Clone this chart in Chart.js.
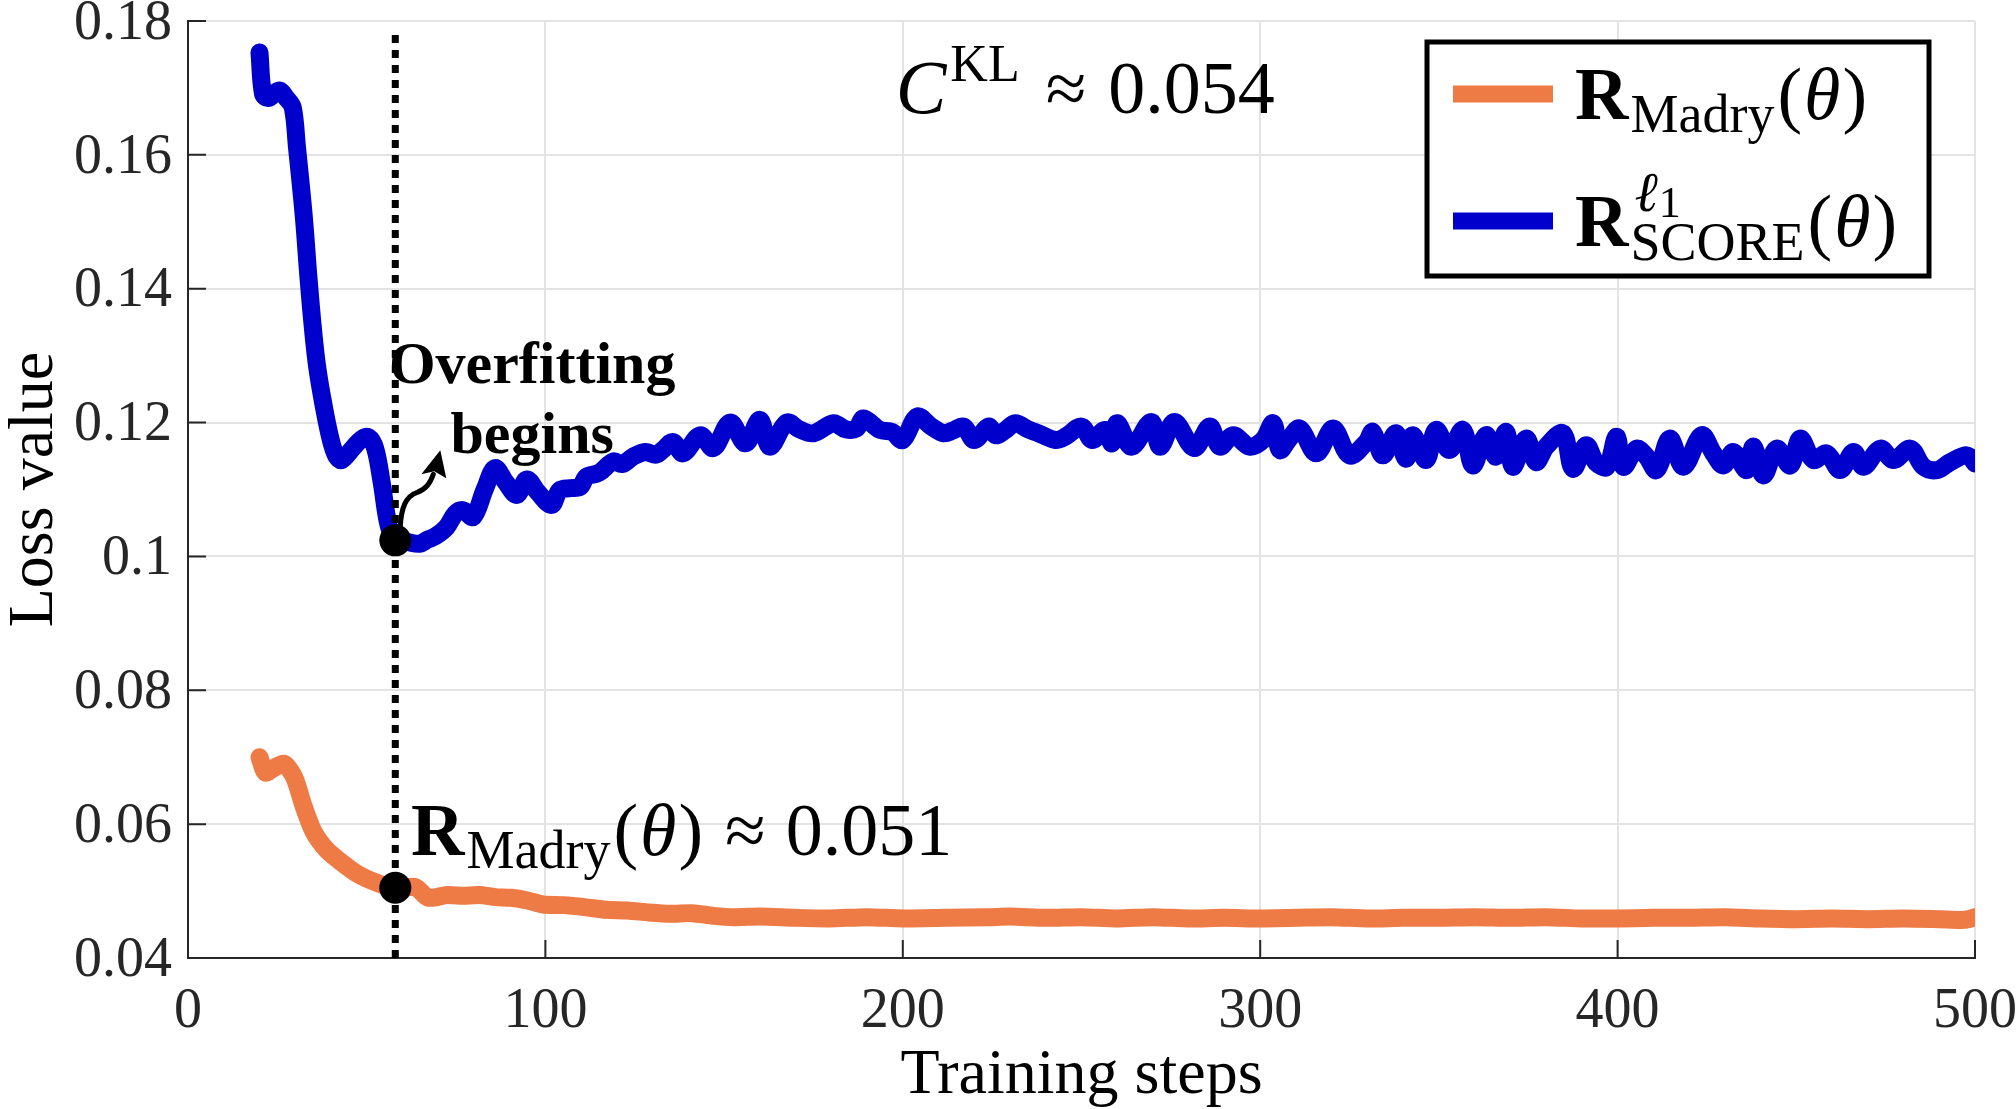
<!DOCTYPE html>
<html>
<head>
<meta charset="utf-8">
<script src="https://cdn.jsdelivr.net/npm/chart.js@4.4.1/dist/chart.umd.min.js"></script>
<style>
  html, body { margin: 0; padding: 0; background: #fff; }
  canvas { display: block; }
</style>
</head>
<body>
<canvas id="lossChart" width="2016" height="1109"></canvas>
<script>
// training steps / loss values
const blueSteps = [
  20, 21, 22.5, 25.5, 27.5, 29.3, 30.5, 32.4, 33.7, 35,
  36.2, 38, 40, 41.5, 43, 46, 48.5, 50.5, 52.4, 54.2,
  56.1, 58, 61, 64.8, 67, 69.2, 72.4, 74.8, 77, 79.8,
  83, 85.9, 89, 92, 94.8, 98, 101.7, 104, 107, 109.7,
  111.5, 115, 119, 121.5, 124.5, 128, 131, 133, 135.7, 138.5,
  143.3, 147, 151.7, 156, 160, 162.8, 167.5, 171, 175, 180.6,
  184, 187, 189, 193.6, 197, 200, 204, 208, 211.5, 214,
  217, 220, 224, 226, 228.5, 231.5, 235, 238, 242.7, 245.5,
  250, 253, 256.6, 258.5, 260, 264, 269.5, 272, 276, 281.5,
  285.9, 288.7, 292.5, 297, 300.8, 303.6, 305.5, 308, 311, 315.7,
  320.4, 325, 329.7, 331.5, 334.3, 338, 340.8, 342.7, 346.4, 349.2,
  352.9, 356.7, 359.5, 363.2, 366, 368.8, 370.7, 374.4, 377.2, 380,
  384.7, 387.5, 391.2, 394, 397, 399.7, 401.6, 405.3, 408, 410.9,
  414.6, 418.4, 423.5, 426.8, 429.6, 432.4, 436.1, 438, 440.8, 444.5,
  448.3, 451.1, 454.8, 458.5, 462.3, 466, 468.8, 473.5, 477.2, 481.9,
  485.6, 489.4, 493.1, 497.8, 500
];
const blueLoss = [
  0.1753, 0.1691, 0.1685, 0.1696, 0.1685, 0.1671, 0.1611, 0.1508, 0.1417, 0.1338,
  0.1281, 0.1224, 0.1173, 0.1150, 0.1144, 0.1161, 0.1175, 0.1178, 0.1161, 0.1110,
  0.1047, 0.1024, 0.1022, 0.1019, 0.1025, 0.1030, 0.1044, 0.1064, 0.1069, 0.1059,
  0.1100, 0.1132, 0.1110, 0.1092, 0.1115, 0.1095, 0.1077, 0.1099, 0.1102, 0.1104,
  0.1119, 0.1125, 0.1142, 0.1138, 0.1149, 0.1156, 0.1152, 0.1160, 0.1171, 0.1154,
  0.1181, 0.1162, 0.1200, 0.1169, 0.1204, 0.1164, 0.1200, 0.1190, 0.1184, 0.1199,
  0.1190, 0.1191, 0.1206, 0.1189, 0.1186, 0.1174, 0.1209, 0.1194, 0.1184, 0.1188,
  0.1194, 0.1174, 0.1194, 0.1181, 0.1188, 0.1199, 0.1190, 0.1184, 0.1174, 0.1179,
  0.1194, 0.1174, 0.1189, 0.1169, 0.1199, 0.1164, 0.1201, 0.1164, 0.1201, 0.1162,
  0.1194, 0.1164, 0.1181, 0.1164, 0.1174, 0.1199, 0.1159, 0.1175, 0.1191, 0.1154,
  0.1191, 0.1151, 0.1171, 0.1186, 0.1151, 0.1184, 0.1146, 0.1181, 0.1144, 0.1189,
  0.1159, 0.1189, 0.1136, 0.1181, 0.1149, 0.1186, 0.1134, 0.1176, 0.1141, 0.1164,
  0.1184, 0.1131, 0.1166, 0.1140, 0.1134, 0.1179, 0.1134, 0.1161, 0.1150, 0.1129,
  0.1176, 0.1134, 0.1181, 0.1154, 0.1136, 0.1156, 0.1129, 0.1164, 0.1121, 0.1161,
  0.1136, 0.1176, 0.1144, 0.1154, 0.1129, 0.1156, 0.1134, 0.1161, 0.1144, 0.1161,
  0.1134, 0.1129, 0.1141, 0.1151, 0.1139
];

const orangeSteps = [
  20, 21.7, 24.4, 27, 29.8, 32.4, 35.1, 38.7, 42.2, 47.6,
  53, 58.3, 63.6, 67.2, 72.5, 77, 81.5, 86, 90.4, 95,
  99.3, 105, 111, 117, 123, 129, 135, 141, 147, 152.8,
  160, 170, 179.5, 190, 200, 212, 224, 230, 240, 250,
  260, 270, 280, 290, 300, 310, 320, 330, 340, 350,
  360, 370, 380, 390, 400, 410, 420, 430, 440, 450,
  460, 470, 480, 490, 497, 500
];
const orangeLoss = [
  0.0700, 0.0677, 0.0685, 0.0690, 0.0669, 0.0626, 0.0589, 0.0562, 0.0546, 0.0525,
  0.0512, 0.0504, 0.0506, 0.0490, 0.0494, 0.0493, 0.0494, 0.0491, 0.0490, 0.0486,
  0.0480, 0.0479, 0.0476, 0.0472, 0.0471, 0.0468, 0.0466, 0.0467, 0.0463, 0.0461,
  0.0462, 0.0460, 0.0459, 0.0461, 0.0459, 0.0460, 0.0461, 0.0462, 0.0460, 0.0461,
  0.0459, 0.0461, 0.0459, 0.0460, 0.0459, 0.0460, 0.0461, 0.0459, 0.0460, 0.0460,
  0.0461, 0.0460, 0.0461, 0.0459, 0.0459, 0.0460, 0.0460, 0.0461, 0.0459, 0.0458,
  0.0459, 0.0458, 0.0459, 0.0458, 0.0457, 0.0461
];

// overfitting point and the dotted marker line
const overfitStep = 58;
const markerLoss = [0.1024, 0.0505];
const dottedLoss = [0.04, 0.178];

const xTicks = [0, 100, 200, 300, 400, 500];
const yTicks = [0.04, 0.06, 0.08, 0.1, 0.12, 0.14, 0.16, 0.18];

const BLUE = "#0000CC";
const ORANGE = "#EE7A45";
const AXIS = "#262626";
const SERIF = "'Liberation Serif', 'Times New Roman', serif";

const toPoints = (xs, ys) => xs.map((x, i) => ({ x: x, y: ys[i] }));

// write text pieces one after another (sub/superscripts)
const drawRich = (ctx, x, y, parts) => {
  parts.forEach((p) => {
    ctx.font = p.font;
    ctx.fillText(p.text, x, y + (p.dy || 0));
    x += ctx.measureText(p.text).width + (p.gap || 0);
  });
  return x;
};

// MATLAB style ticks pointing into the plot
const innerTicks = {
  id: "innerTicks",
  afterDraw(chart) {
    const ctx = chart.ctx;
    const { left, bottom } = chart.chartArea;
    const xs = chart.scales.x;
    const ys = chart.scales.y;
    ctx.save();
    ctx.strokeStyle = AXIS;
    ctx.lineWidth = 2;
    ctx.beginPath();
    xTicks.forEach((v) => {
      const px = xs.getPixelForValue(v);
      ctx.moveTo(px, bottom);
      ctx.lineTo(px, bottom - 18);
    });
    yTicks.forEach((v) => {
      const py = ys.getPixelForValue(v);
      ctx.moveTo(left, py);
      ctx.lineTo(left + 18, py);
    });
    ctx.stroke();
    ctx.restore();
  },
};

const annotations = {
  id: "annotations",
  afterDatasetsDraw(chart) {
    const ctx = chart.ctx;
    const xs = chart.scales.x;
    const ys = chart.scales.y;
    ctx.save();
    ctx.fillStyle = "#000";
    ctx.textBaseline = "alphabetic";
    ctx.textAlign = "left";

    // C^KL ≈ 0.054
    drawRich(ctx, xs.getPixelForValue(198), ys.getPixelForValue(0.1663), [
      { text: "C", font: "italic 76px " + SERIF, gap: 4 },
      { text: "KL", font: "52px " + SERIF, dy: -32, gap: 26 },
      { text: "≈", font: "74px " + SERIF, gap: 22 },
      { text: "0.054", font: "74px " + SERIF },
    ]);

    // R_Madry(θ) ≈ 0.051
    drawRich(ctx, xs.getPixelForValue(62.4), ys.getPixelForValue(0.0554), [
      { text: "R", font: "bold 74px " + SERIF, gap: 2 },
      { text: "Madry", font: "54px " + SERIF, dy: 13, gap: 3 },
      { text: "(", font: "74px " + SERIF, gap: 2 },
      { text: "θ", font: "italic 74px " + SERIF, gap: 2 },
      { text: ")", font: "74px " + SERIF, gap: 22 },
      { text: "≈", font: "74px " + SERIF, gap: 20 },
      { text: "0.051", font: "74px " + SERIF },
    ]);

    // Overfitting begins
    ctx.textAlign = "center";
    ctx.font = "bold 60px " + SERIF;
    const cx = xs.getPixelForValue(96.3);
    ctx.fillText("Overfitting", cx, ys.getPixelForValue(0.1259));
    ctx.fillText("begins", cx, ys.getPixelForValue(0.1155));

    // curved arrow from the overfitting point
    const px = xs.getPixelForValue(overfitStep);
    const py = ys.getPixelForValue(markerLoss[0]);
    ctx.strokeStyle = "#000";
    ctx.lineWidth = 5;
    ctx.lineCap = "round";
    ctx.beginPath();
    ctx.moveTo(px + 5, py - 14);
    ctx.bezierCurveTo(px + 6, py - 32, px + 10, py - 44, px + 22, py - 48);
    ctx.bezierCurveTo(px + 32, py - 52, px + 35, py - 58, px + 38, py - 66);
    ctx.stroke();
    ctx.beginPath();
    ctx.moveTo(px + 45, py - 90);
    ctx.lineTo(px + 51, py - 62);
    ctx.lineTo(px + 39, py - 69);
    ctx.lineTo(px + 26, py - 66);
    ctx.closePath();
    ctx.fill();
    ctx.restore();
  },
  afterDraw(chart) {
    // legend box with math labels
    const ctx = chart.ctx;
    const { top, right } = chart.chartArea;
    const bx = right - 548, by = top + 21, bw = 502, bh = 234;
    ctx.save();
    ctx.fillStyle = "#fff";
    ctx.fillRect(bx, by, bw, bh);
    ctx.strokeStyle = "#000";
    ctx.lineWidth = 5;
    ctx.strokeRect(bx, by, bw, bh);

    const rows = [
      { color: ORANGE, y: by + 52 },
      { color: BLUE, y: by + 179 },
    ];
    rows.forEach((r) => {
      ctx.strokeStyle = r.color;
      ctx.lineWidth = 17;
      ctx.beginPath();
      ctx.moveTo(bx + 26, r.y);
      ctx.lineTo(bx + 126, r.y);
      ctx.stroke();
    });

    ctx.fillStyle = "#000";
    ctx.textAlign = "left";
    ctx.textBaseline = "alphabetic";
    const tx = bx + 148;
    drawRich(ctx, tx, rows[0].y + 25, [
      { text: "R", font: "bold 74px " + SERIF, gap: 2 },
      { text: "Madry", font: "54px " + SERIF, dy: 13, gap: 3 },
      { text: "(", font: "74px " + SERIF, gap: 2 },
      { text: "θ", font: "italic 74px " + SERIF, gap: 2 },
      { text: ")", font: "74px " + SERIF },
    ]);
    const rEnd = drawRich(ctx, tx, rows[1].y + 25, [
      { text: "R", font: "bold 74px " + SERIF, gap: 2 },
    ]);
    drawRich(ctx, rEnd + 4, rows[1].y - 10, [
      { text: "ℓ", font: "italic 56px " + SERIF, gap: 1 },
      { text: "1", font: "44px " + SERIF, dy: 6 },
    ]);
    const subEnd = drawRich(ctx, rEnd, rows[1].y + 39, [
      { text: "SCORE", font: "54px " + SERIF, gap: 3 },
    ]);
    drawRich(ctx, subEnd, rows[1].y + 25, [
      { text: "(", font: "74px " + SERIF, gap: 2 },
      { text: "θ", font: "italic 74px " + SERIF, gap: 2 },
      { text: ")", font: "74px " + SERIF },
    ]);
    ctx.restore();
  },
};

const lossChart = new Chart(document.getElementById("lossChart"), {
  type: "line",
  data: {
    datasets: [
      {
        label: "overfitting point",
        data: toPoints([overfitStep, overfitStep], markerLoss),
        showLine: false,
        pointRadius: 16,
        pointBackgroundColor: "#000",
        pointBorderWidth: 0,
        order: 0,
      },
      {
        label: "overfitting line",
        data: toPoints([overfitStep, overfitStep], dottedLoss),
        borderColor: "#000",
        borderWidth: 7,
        borderDash: [8, 7],
        pointRadius: 0,
        order: 1,
      },
      {
        label: "R Madry",
        data: toPoints(orangeSteps, orangeLoss),
        borderColor: ORANGE,
        borderWidth: 18,
        tension: 0.25,
        pointRadius: 0,
        borderJoinStyle: "round",
        borderCapStyle: "round",
        order: 2,
      },
      {
        label: "R SCORE",
        data: toPoints(blueSteps, blueLoss),
        borderColor: BLUE,
        borderWidth: 18,
        tension: 0.35,
        pointRadius: 0,
        borderJoinStyle: "round",
        borderCapStyle: "round",
        order: 3,
      },
    ],
  },
  options: {
    responsive: false,
    devicePixelRatio: 1,
    animation: false,
    layout: {
      autoPadding: false,
      padding: { top: 21, right: 41, left: 0, bottom: 0 },
    },
    plugins: {
      legend: { display: false },
      tooltip: { enabled: false },
    },
    scales: {
      x: {
        type: "linear",
        min: 0,
        max: 500,
        afterFit: (scale) => {
          scale.height = 151;
          scale.paddingLeft = 0;
          scale.paddingRight = 0;
        },
        afterBuildTicks: (scale) => { scale.ticks = xTicks.map((v) => ({ value: v })); },
        ticks: {
          color: AXIS,
          padding: 21,
          maxRotation: 0,
          font: { family: SERIF, size: 56 },
        },
        grid: { color: "#e3e3e3", lineWidth: 2, drawTicks: false },
        border: { display: true, color: AXIS, width: 2 },
        title: {
          display: true,
          text: "Training steps",
          color: "#000",
          font: { family: SERIF, size: 64 },
          padding: { top: 0, bottom: -6 },
        },
      },
      y: {
        type: "linear",
        min: 0.04,
        max: 0.18,
        afterFit: (scale) => {
          scale.width = 188;
          scale.paddingTop = 0;
          scale.paddingBottom = 0;
        },
        afterBuildTicks: (scale) => { scale.ticks = yTicks.map((v) => ({ value: v })); },
        ticks: {
          color: AXIS,
          padding: 16,
          labelOffset: 3,
          font: { family: SERIF, size: 56 },
          callback: (v) => String(+v.toFixed(2)),
        },
        grid: { color: "#e3e3e3", lineWidth: 2, drawTicks: false },
        border: { display: true, color: AXIS, width: 2 },
        title: {
          display: true,
          text: "Loss value",
          color: "#000",
          font: { family: SERIF, size: 64 },
          padding: { top: -3, bottom: 0 },
        },
      },
    },
  },
  plugins: [innerTicks, annotations],
});
</script>
</body>
</html>
